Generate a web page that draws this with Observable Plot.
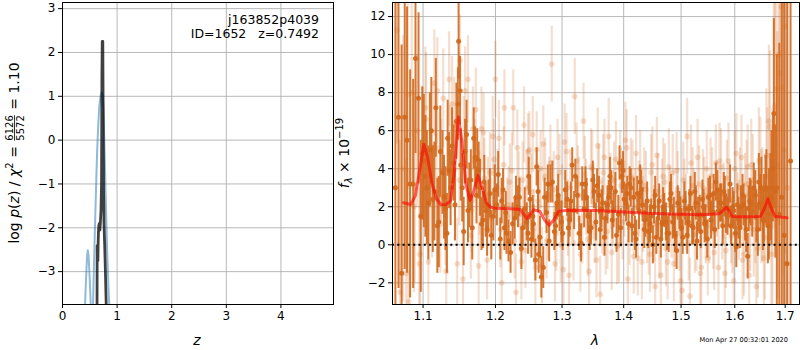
<!DOCTYPE html>
<html><head><meta charset="utf-8">
<script src="https://cdn.jsdelivr.net/npm/d3@7"></script>
<script src="https://cdn.jsdelivr.net/npm/@observablehq/plot@0.6"></script>
<style>
body{margin:0;background:#fff;}
#wrap{position:relative;width:800px;height:350px;font-family:"DejaVu Sans",sans-serif;}
#wrap svg{position:absolute;top:0;overflow:visible;}
</style></head><body><div id="wrap"></div>
<script>
// ---------- left panel: log p(z) ----------
const pzXTicks = [0, 1, 2, 3, 4];
const pzYTicks = [-3, -2, -1, 0, 1, 2, 3];
const blueBumpZ = [0.405, 0.43, 0.45, 0.463, 0.478, 0.50, 0.525];
const blueBumpLogP = [-4.0, -3.2, -2.65, -2.51, -2.65, -3.2, -4.0];
const blueMainZ = [0.555, 0.575, 0.60, 0.62, 0.635, 0.655, 0.672, 0.695, 0.72, 0.735, 0.75, 0.77, 0.793, 0.818, 0.84, 0.865];
const blueMainLogP = [-4.0, -2.9, -1.75, -0.85, -0.24, 0.35, 0.74, 1.0, 1.09, 1.02, 0.75, -0.24, -1.39, -2.53, -3.3, -4.0];
const darkZ = [0.632, 0.635, 0.642, 0.648, 0.652, 0.658, 0.665, 0.675, 0.685, 0.695, 0.705, 0.715, 0.722, 0.728, 0.738, 0.745, 0.752, 0.760, 0.775, 0.790, 0.805];
const darkLogP = [-4.0, -2.41, -2.45, -2.75, -2.4, -2.1, -1.95, -1.9, -2.05, -1.85, -1.6, -1.0, 1.5, 2.25, 2.25, 0.5, -1.2, -1.9, -2.5, -3.2, -4.0];

// ---------- right panel: spectrum ----------
const lamTicks = [1.1, 1.2, 1.3, 1.4, 1.5, 1.6, 1.7];
const fluxTicks = [-2, 0, 2, 4, 6, 8, 10, 12];
const darkLam = [1.064,1.068,1.072,1.076,1.079,1.083,1.087,1.090,1.094,1.097,1.101,1.105,1.109,1.113,1.117,1.121,1.126,1.130,1.133,1.137,1.141,1.145,1.148,1.151,1.155,1.159,1.163,1.167,1.171,1.174,1.178,1.182,1.186,1.190,1.194,1.199,1.204,1.209,1.213,1.216,1.219,1.225,1.230,1.235,1.240,1.246,1.249,1.253,1.256,1.261,1.264,1.268,1.273,1.278,1.282,1.288,1.292,1.296,1.301,1.308,1.312,1.316,1.321,1.327,1.332,1.337,1.341,1.346,1.351,1.356,1.361,1.365,1.370,1.375,1.379,1.383,1.388,1.393,1.397,1.401,1.406,1.410,1.414,1.419,1.423,1.428,1.432,1.437,1.442,1.447,1.452,1.456,1.461,1.466,1.470,1.475,1.480,1.485,1.489,1.494,1.499,1.503,1.508,1.513,1.517,1.522,1.527,1.531,1.536,1.541,1.545,1.550,1.555,1.560,1.564,1.569,1.574,1.579,1.583,1.588,1.593,1.598,1.603,1.607,1.612,1.617,1.622,1.627,1.631,1.637,1.642,1.647,1.652,1.657,1.662,1.667,1.672,1.677,1.683,1.688,1.693,1.698,1.704,1.711];
const darkFlux = [3.0,6.7,-1.5,6.7,5.5,3.2,3.2,9.8,7.7,1.5,4.4,3.0,5.0,2.4,7.2,1.2,3.8,1.9,5.6,3.0,4.3,6.5,10.7,4.2,0.7,5.8,2.6,0.9,4.6,4.5,3.0,1.3,1.8,2.0,0.5,2.9,3.7,2.3,0.9,0.6,0.2,1.1,2.5,2.5,0.9,1.2,3.6,0.3,1.1,4.1,-0.5,-1.7,2.5,3.2,3.2,0.7,2.2,1.6,0.6,2.4,1.3,4.2,3.6,0.6,3.2,3.2,1.5,0.9,2.8,3.1,0.8,2.2,1.4,2.5,3.0,1.8,0.5,4.3,3.6,2.4,2.7,3.2,1.0,0.6,2.7,3.3,2.1,1.3,0.7,1.5,2.0,0.4,2.3,1.1,1.8,0.6,2.4,1.2,0.5,2.2,1.6,0.4,1.9,1.2,2.7,0.9,2.2,1.6,0.7,2.0,1.2,2.5,1.3,2.7,3.3,1.8,2.2,2.8,1.6,1.9,1.0,1.8,-0.1,1.4,2.0,2.1,0.8,1.9,2.2,3.0,1.5,3.3,3.0,1.9,3.0,1.6,3.0,6.9,3.0,1.6,2.5,0.5,-1.0,4.4];
const darkErr = [14,9,12,8,7,6,5.5,5,4.5,4,3.5,3,3,2.8,2.6,2.4,2.2,2.2,2,2,2,2,2,1.9,1.8,1.8,1.7,1.7,1.6,1.6,1.5,1.5,1.4,1.4,1.3,1.3,1.2,1.2,1.2,1.1,1.1,1.1,1.1,1.0,1.0,1.0,1.0,1.0,1.0,1.0,1.0,1.1,1.0,1.0,1.0,1.0,0.9,0.9,0.9,0.9,0.9,0.9,0.9,0.9,0.9,0.9,0.9,0.9,0.9,0.9,0.9,0.9,0.9,0.9,0.9,0.9,0.9,0.9,0.9,0.9,0.9,0.9,0.9,0.9,0.9,0.9,0.9,0.9,0.9,0.9,0.9,0.9,0.9,0.9,0.9,0.9,0.9,0.9,0.9,0.9,0.9,0.9,0.9,0.9,0.9,0.9,0.9,0.9,0.9,0.9,0.9,1.0,1.0,1.0,1.0,1.0,1.0,1.0,1.0,1.0,1.0,1.0,1.1,1.1,1.1,1.1,1.2,1.2,1.2,1.3,1.4,1.5,1.6,1.8,2.0,2.4,3.0,5,7,9,11,14,16,20];
const dark2Lam = [1.099,1.103,1.107,1.111,1.115,1.119,1.123,1.128,1.132,1.135,1.139,1.143,1.147,1.150,1.153,1.157,1.161,1.165,1.169,1.173,1.176,1.180,1.184,1.188,1.192,1.197,1.202,1.207,1.211,1.215,1.222,1.228,1.233,1.238,1.243,1.248,1.251,1.255,1.259,1.263,1.266,1.271,1.276,1.280,1.285,1.290,1.294,1.299,1.305,1.310,1.314,1.319,1.324,1.330,1.335,1.339,1.344,1.349,1.354,1.359,1.363,1.368,1.373,1.377,1.381,1.386,1.391,1.395,1.399,1.404,1.408,1.412,1.417,1.421,1.426,1.430,1.435,1.440,1.445,1.450,1.454,1.459,1.464,1.468,1.473,1.478,1.482,1.487,1.492,1.497,1.501,1.506,1.511,1.515,1.520,1.525,1.529,1.534,1.539,1.543,1.548,1.553,1.558,1.562,1.567,1.572,1.577,1.581,1.586,1.591,1.596,1.601,1.605,1.610,1.615,1.620,1.625,1.629,1.634,1.640,1.645,1.650,1.655,1.660,1.665,1.670,1.675,1.680];
const dark2Flux = [4.8,3.6,2.2,6.0,2.8,1.0,4.9,2.5,0.6,3.9,5.2,2.1,7.4,8.1,3.0,4.9,1.8,3.4,5.6,2.6,3.9,1.1,3.3,0.8,2.7,1.5,2.1,0.3,2.9,1.7,-0.4,1.4,2.0,-0.2,1.9,0.6,2.4,1.5,-0.8,2.8,0.4,-1.2,1.7,0.2,3.3,1.0,2.6,1.2,2.9,0.9,2.3,1.8,2.6,0.1,1.9,2.5,0.7,3.4,1.2,2.6,1.9,0.4,2.1,3.6,1.3,2.8,1.6,0.9,3.9,2.2,1.1,3.0,2.5,0.3,1.8,2.9,0.8,2.3,1.1,0.0,2.6,1.4,0.3,2.0,1.2,0.6,2.7,1.5,-0.3,1.8,0.9,2.3,0.5,1.9,1.0,2.8,0.2,1.6,2.4,1.1,0.3,2.6,1.7,0.8,2.9,2.2,1.0,2.6,1.5,3.2,2.0,0.6,2.1,0.9,2.6,1.4,-0.6,2.3,1.7,2.6,0.8,2.2,1.3,2.9,1.0,2.5,4.0,2.8];
const dark2Err = [3.5,3.2,3.0,2.8,2.6,2.5,2.4,2.2,2.1,2.0,2.0,1.9,1.9,1.8,1.8,1.7,1.7,1.6,1.6,1.5,1.5,1.4,1.4,1.4,1.3,1.3,1.1,1.1,1.1,1.1,1.1,1.1,1.1,1.1,1.1,1.1,1.1,1.1,1.1,1.1,1.1,1.1,1.1,1.1,1.1,1.1,1.1,1.1,1.0,1.0,1.0,1.0,1.0,1.0,1.0,1.0,1.0,1.0,1.0,1.0,1.0,1.0,1.0,1.0,1.0,1.0,1.0,1.0,1.0,1.0,1.0,1.0,1.0,1.0,1.0,1.0,1.0,1.0,1.0,1.0,1.0,1.0,1.0,1.0,1.0,1.0,1.0,1.0,1.0,1.0,1.0,1.0,1.0,1.0,1.0,1.0,1.0,1.0,1.0,1.0,1.0,1.0,1.0,1.0,1.0,1.0,1.0,1.0,1.0,1.0,1.0,1.0,1.1,1.1,1.1,1.2,1.2,1.2,1.3,1.3,1.4,1.5,1.6,1.8,2.0,2.3,2.8,3.5];
const lightLam = [1.066,1.070,1.074,1.078,1.081,1.085,1.089,1.092,1.095,1.099,1.103,1.107,1.111,1.115,1.119,1.123,1.127,1.131,1.135,1.139,1.143,1.146,1.150,1.154,1.157,1.161,1.165,1.168,1.172,1.176,1.180,1.184,1.188,1.192,1.196,1.200,1.205,1.209,1.213,1.217,1.221,1.226,1.230,1.234,1.238,1.242,1.246,1.250,1.255,1.259,1.263,1.267,1.271,1.276,1.280,1.284,1.289,1.293,1.298,1.302,1.307,1.311,1.316,1.320,1.325,1.329,1.334,1.338,1.343,1.348,1.352,1.357,1.361,1.366,1.370,1.375,1.380,1.384,1.389,1.394,1.398,1.403,1.407,1.412,1.417,1.421,1.426,1.431,1.435,1.440,1.445,1.449,1.454,1.459,1.464,1.468,1.473,1.478,1.483,1.487,1.492,1.497,1.502,1.506,1.511,1.516,1.521,1.525,1.530,1.535,1.540,1.545,1.549,1.554,1.559,1.564,1.569,1.574,1.579,1.583,1.588,1.593,1.598,1.603,1.608,1.613,1.618,1.623,1.628,1.632,1.637,1.642,1.647,1.652,1.657,1.662,1.667,1.672,1.677,1.682,1.687,1.692,1.697,1.702];
const lightFlux = [11.3,-2.5,4.0,-1.5,-3.0,8.0,3.0,6.0,-1.0,4.8,7.2,-0.9,3.1,8.5,8.1,1.1,7.7,-1.4,8.7,7.4,4.0,-1.0,9.7,-1.8,8.1,8.7,0.5,6.1,7.1,-1.1,6.1,3.5,-0.8,3.8,5.7,8.7,5.6,-2.0,7.2,1.5,3.3,7.2,-2.5,2.9,-0.9,6.3,3.0,5.0,5.8,-1.2,2.3,4.0,5.3,0.2,2.6,9.5,-1.0,4.6,0.0,-1.3,4.9,-1.6,2.2,7.8,3.2,-0.5,6.5,2.5,-1.4,4.0,1.0,5.2,-2.6,3.8,0.4,5.7,-0.4,3.4,-0.1,4.0,1.2,5.5,-1.8,3.6,-0.6,4.8,2.4,-0.9,3.1,1.0,-0.5,4.2,-2.2,2.8,-1.6,3.6,-0.2,4.1,1.3,-1.0,3.9,0.6,-2.4,2.5,5.7,-2.7,3.1,0.5,4.6,-1.5,3.0,1.0,-0.7,3.6,0.7,4.3,-1.2,4.1,2.3,-0.3,4.4,1.0,-1.9,4.8,1.3,4.6,-0.5,3.2,-1.6,4.2,0.8,-2.2,4.4,2.0,-0.7,4.7,6.5,-0.5,7.1,8.2,10.0,12.5,5.0,-1.0];
const lightErr = [6,8,7,6,7,5,5,4,4,3.5,3.2,3,3,2.8,2.8,2.6,2.6,2.5,2.5,2.5,2.5,2.4,2.4,2.4,2.3,2.3,2.3,2.2,2.2,2.2,2.2,2.1,2.1,2.1,2.1,2,2,2,2,2,2,2,2,2,2,2,2,2,2,2,2,2,2,2,2,2,2,2,2,2,2,2,2,2,2,2,2,2,2,2,2,2,2,2,2,2,2,2,2,2,2,2,2,2,2,2,2,2,2,2,2,2,2,2,2,2,2,2,2,2,2,2,2,2,2,2,2,2,2,2,2,2,2,2,2,2,2,2,2,2,2,2,2,2.1,2.1,2.2,2.2,2.3,2.3,2.4,2.5,2.6,2.8,3.0,3.2,3.5,4,5,6,7,9,11,13];
const light2Lam = [1.080,1.088,1.096,1.104,1.112,1.118,1.124,1.130,1.136,1.142,1.149,1.155,1.160,1.166,1.170,1.177,1.183,1.189,1.194,1.198,1.203,1.207,1.212,1.219,1.224,1.228,1.232,1.236,1.240,1.244,1.248,1.253,1.257,1.261,1.265,1.269,1.274,1.278,1.282,1.287,1.291,1.296,1.300,1.304,1.309,1.313,1.318,1.323,1.327,1.332,1.336,1.341,1.346,1.350,1.355,1.359,1.364,1.368,1.373,1.378,1.382,1.387,1.392,1.396,1.401,1.405,1.410,1.415,1.419,1.424,1.428,1.433,1.438,1.443,1.447,1.452,1.457,1.461,1.466,1.471,1.476,1.480,1.485,1.490,1.494,1.499,1.504,1.509,1.514,1.518,1.523,1.528,1.533,1.537,1.542,1.547,1.552,1.557,1.561,1.566,1.571,1.576,1.581,1.585,1.590,1.595,1.600,1.605,1.610,1.615,1.620,1.625,1.630,1.635,1.640,1.645,1.650,1.654,1.659,1.664,1.669,1.674,1.679,1.684,1.689,1.694,1.699,1.705];
const light2Flux = [7.9,2.0,-0.5,6.6,2.3,5.1,3.9,1.5,4.8,6.3,3.4,5.5,4.2,1.8,4.4,2.7,5.9,2.5,1.4,4.5,3.0,0.8,4.2,2.1,3.9,0.2,5.1,1.6,3.4,-0.3,4.9,2.8,0.9,5.0,2.0,-1.1,3.6,1.2,4.3,2.9,0.6,3.8,2.2,5.4,1.4,3.0,0.1,4.4,2.6,1.0,3.7,0.3,4.1,2.3,-0.8,3.3,1.5,4.6,0.7,2.8,1.9,4.5,0.0,3.1,2.4,5.1,0.9,3.5,2.0,-0.7,4.0,1.6,2.9,0.4,3.8,1.1,4.7,0.2,2.5,3.3,-0.9,2.1,3.8,0.8,2.9,-1.9,3.4,1.7,0.1,4.3,2.0,0.6,3.2,-1.2,2.6,4.0,1.0,3.1,-0.4,2.4,4.4,1.2,-1.5,3.5,2.3,0.5,4.0,1.8,3.0,-0.8,2.6,4.1,0.9,3.4,1.5,-0.2,3.9,2.1,0.4,3.6,6.2,1.0,7.3,4.2,9.0,8.3,11.5,3.0];
const light2Err = [5,4.5,4,3.5,3,2.8,2.7,2.6,2.5,2.5,2.4,2.3,2.3,2.2,2.2,2.2,2.1,2.1,2.1,2.1,2,2,2,2,2,2,2,2,2,2,2,2,2,2,2,2,2,2,2,2,2,2,2,2,2,2,2,2,2,2,2,2,2,2,2,2,2,2,2,2,2,2,2,2,2,2,2,2,2,2,2,2,2,2,2,2,2,2,2,2,2,2,2,2,2,2,2,2,2,2,2,2,2,2,2,2,2,2,2,2,2,2,2,2,2,2,2,2,2.1,2.1,2.2,2.2,2.3,2.4,2.5,2.6,2.8,3.0,3.3,3.6,4,5,6,7,8,10,12,14];
const modelLam = [1.0744,1.0839,1.090,1.095,1.101,1.106,1.112,1.118,1.1237,1.130,1.137,1.142,1.1478,1.153,1.158,1.1638,1.169,1.175,1.181,1.187,1.193,1.20,1.22,1.2364,1.2463,1.2564,1.266,1.273,1.280,1.287,1.2946,1.31,1.355,1.40,1.45,1.50,1.537,1.570,1.578,1.584,1.590,1.595,1.62,1.650,1.658,1.665,1.672,1.680,1.704];
const modelFlux = [2.21,2.12,2.6,3.8,5.28,4.6,3.2,2.4,2.12,2.1,2.3,3.8,6.72,5.3,3.2,2.33,2.8,3.65,3.0,2.2,1.98,1.92,1.9,1.85,1.37,1.84,1.75,1.3,1.02,1.3,1.77,1.82,1.80,1.72,1.65,1.6,1.58,1.63,1.8,1.98,1.75,1.49,1.48,1.49,1.9,2.42,1.9,1.49,1.42];

const ORANGE = "#d2691e";
const GRID = "#b0b0b0";
const FONT = "DejaVu Sans";
const wrap = document.getElementById("wrap");

// ---------- build left ----------
const blueBump = blueBumpZ.map((z, i) => ({z, p: blueBumpLogP[i]}));
const blueMain = blueMainZ.map((z, i) => ({z, p: blueMainLogP[i]}));
const darkPz = darkZ.map((z, i) => ({z, p: darkLogP[i]}));

const left = Plot.plot({
  width: 340, height: 350,
  marginLeft: 62, marginRight: 7, marginTop: 2, marginBottom: 46,
  style: {fontFamily: FONT, fontSize: "12px", background: "transparent", color: "black"},
  x: {domain: [0, 4.963], ticks: pzXTicks, tickSize: 4, tickPadding: 3, tickFormat: d3.format("d"), label: null},
  y: {domain: [-3.75, 3.14], ticks: pzYTicks, tickSize: 4, tickPadding: 3, tickFormat: d3.format("d"), label: null},
  marks: [
    Plot.ruleX(pzXTicks, {stroke: GRID, strokeWidth: 0.9}),
    Plot.ruleY(pzYTicks, {stroke: GRID, strokeWidth: 0.9}),
    Plot.line(blueBump, {x: "z", y: "p", stroke: "#1f77b4", strokeOpacity: 0.5, strokeWidth: 2, clip: true}),
    Plot.line(blueMain, {x: "z", y: "p", stroke: "#1f77b4", strokeOpacity: 0.5, strokeWidth: 2, clip: true}),
    Plot.line(darkPz, {x: "z", y: "p", stroke: "#000", strokeOpacity: 0.75, strokeWidth: 2.8, clip: true}),
    Plot.frame({stroke: "black", strokeWidth: 1})
  ]
});
left.style.left = "0px";
wrap.appendChild(left);

// ---------- build right ----------
const toRows = (L, F, E) => L.map((l, i) => ({lam: l, f: F[i], e: E[i]}));
const dark = toRows(darkLam, darkFlux, darkErr).concat(toRows(dark2Lam, dark2Flux, dark2Err));
const light = toRows(lightLam, lightFlux, lightErr).concat(toRows(light2Lam, light2Flux, light2Err));
const model = modelLam.map((l, i) => ({lam: l, f: modelFlux[i]}));

const right = Plot.plot({
  width: 460, height: 350,
  marginLeft: 52, marginRight: 1, marginTop: 2, marginBottom: 46,
  style: {fontFamily: FONT, fontSize: "12px", background: "transparent", color: "black"},
  x: {type: "log", domain: [1.0603, 1.7295], ticks: lamTicks, tickSize: 4, tickPadding: 3, tickFormat: d3.format(".1f"), label: null},
  y: {domain: [-3.14, 12.74], ticks: fluxTicks, tickSize: 4, tickPadding: 3, tickFormat: d3.format("d"), label: null},
  marks: [
    Plot.ruleX(lamTicks, {stroke: GRID, strokeWidth: 0.9}),
    Plot.ruleY(fluxTicks, {stroke: GRID, strokeWidth: 0.9}),
    Plot.ruleX(light, {x: "lam", y1: d => d.f - d.e, y2: d => d.f + d.e, stroke: ORANGE, strokeOpacity: 0.22, strokeWidth: 2.2, clip: true}),
    Plot.dot(light, {x: "lam", y: "f", r: 2.8, fill: ORANGE, fillOpacity: 0.22, stroke: "none", clip: true}),
    Plot.ruleX(dark, {x: "lam", y1: d => d.f - d.e, y2: d => d.f + d.e, stroke: ORANGE, strokeOpacity: 0.9, strokeWidth: 2, clip: true}),
    Plot.dot(dark, {x: "lam", y: "f", r: 2.5, fill: ORANGE, fillOpacity: 0.95, stroke: "none", clip: true}),
    Plot.ruleY([0], {stroke: "black", strokeWidth: 2, strokeDasharray: "2,3.3"}),
    Plot.line(model, {x: "lam", y: "f", stroke: "red", strokeOpacity: 0.6, strokeWidth: 3, clip: true}),
    Plot.frame({stroke: "black", strokeWidth: 1})
  ]
});
right.style.left = "340px";
wrap.appendChild(right);

// ---------- labels ----------
const ls = d3.select(left);
ls.append("text").attr("x", 319).attr("y", 24).attr("text-anchor", "end")
  .attr("font-family", FONT).attr("font-size", 12.5).text("j163852p4039");
ls.append("text").attr("x", 319).attr("y", 38).attr("text-anchor", "end")
  .attr("font-family", FONT).attr("font-size", 12.5).text("ID=1652\u00a0\u00a0\u00a0z=0.7492");
ls.append("text").attr("x", 197).attr("y", 345).attr("text-anchor", "middle")
  .attr("font-family", FONT).attr("font-size", 14).attr("font-style", "italic").text("z");

const g = ls.append("g").attr("font-family", FONT).attr("font-size", 14).attr("text-anchor", "start");
const t1 = g.append("text").attr("x", 0).attr("y", 0).attr("text-anchor", "start");
t1.append("tspan").text("log\u00a0");
t1.append("tspan").attr("font-style", "italic").text("p");
t1.append("tspan").text("(");
t1.append("tspan").attr("font-style", "italic").text("z");
t1.append("tspan").text(")\u00a0/\u00a0");
t1.append("tspan").attr("font-style", "italic").text("χ");
t1.append("tspan").attr("font-size", 10).attr("dy", -6).text("2");
t1.append("tspan").attr("dy", 6).text("\u00a0=\u00a0");
const w1 = t1.node().getComputedTextLength();
const num = g.append("text").attr("x", w1 + 1).attr("y", -6).attr("font-size", 10).attr("text-anchor", "start").text("6126");
const fw = num.node().getComputedTextLength();
g.append("text").attr("x", w1 + 1).attr("y", 5).attr("font-size", 10).attr("text-anchor", "start").text("5572");
g.append("line").attr("x1", w1 + 1).attr("x2", w1 + 1 + fw).attr("y1", -4.5).attr("y2", -4.5).attr("stroke", "black").attr("stroke-width", 0.8);
const t3 = g.append("text").attr("x", w1 + fw + 2).attr("y", 0).attr("text-anchor", "start").text("\u00a0=\u00a01.10");
const total = w1 + fw + 2 + t3.node().getComputedTextLength();
g.attr("transform", `translate(19,153) rotate(-90) translate(${-total / 2},0)`);

const rs = d3.select(right);
rs.append("text").attr("x", 255).attr("y", 345).attr("text-anchor", "middle")
  .attr("font-family", FONT).attr("font-size", 14).attr("font-style", "italic").text("λ");
const ry = rs.append("text").attr("font-family", FONT).attr("font-size", 14)
  .attr("text-anchor", "middle").attr("transform", "translate(9,153) rotate(-90)");
ry.append("tspan").attr("font-style", "italic").text("f");
ry.append("tspan").attr("font-style", "italic").attr("font-size", 10).attr("dy", 3).text("λ");
ry.append("tspan").attr("dy", -3).text("\u00a0×\u00a010");
ry.append("tspan").attr("font-size", 10).attr("dy", -6).text("−19");
rs.append("text").attr("x", 448).attr("y", 342).attr("text-anchor", "end")
  .attr("font-family", FONT).attr("font-size", 6.6).text("Mon Apr 27 00:32:01 2020");
</script></body></html>
